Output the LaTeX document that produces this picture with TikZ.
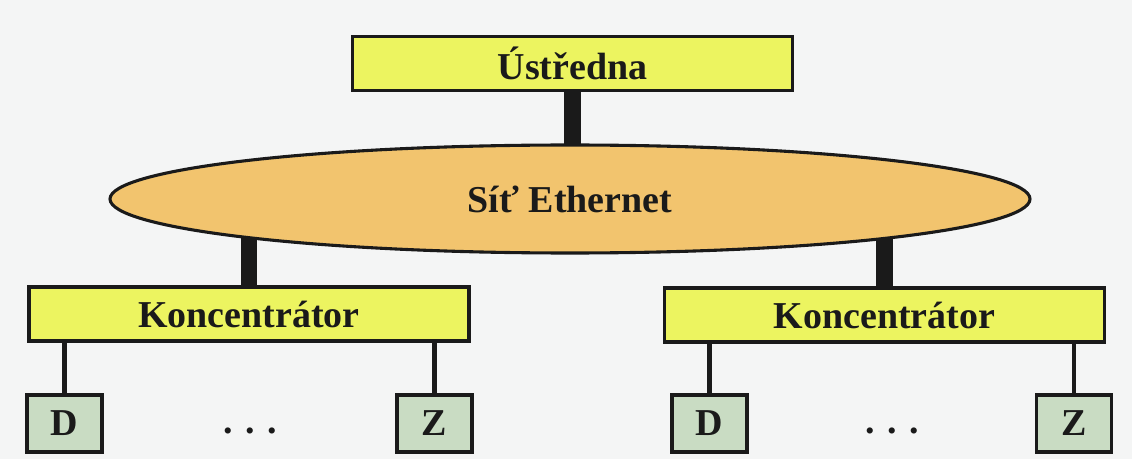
\documentclass[tikz,border=0pt]{standalone}
\usepackage{fontspec}
\setmainfont{Liberation Serif}
\usepackage{xcolor}
\usepackage{tikz}
\usetikzlibrary{shapes.geometric,backgrounds}
\definecolor{netbg}{HTML}{F4F5F5}
\definecolor{boxyellow}{HTML}{ECF460}
\definecolor{netorange}{HTML}{F2C46E}
\definecolor{devgreen}{HTML}{C9DCC3}
\definecolor{inkblack}{HTML}{1A1A1A}

\begin{document}
\begin{tikzpicture}[x=0.025cm,y=-0.025cm,
    hubbox/.style={draw=inkblack,line width=2.5pt,fill=boxyellow,minimum width=440*0.025cm,
      minimum height=54*0.025cm,inner sep=0pt,font=\fontsize{27}{30}\selectfont\bfseries,text=inkblack},
    devbox/.style={draw=inkblack,line width=2.5pt,fill=devgreen,minimum width=75*0.025cm,
      minimum height=57*0.025cm,inner sep=0pt,font=\fontsize{27}{30}\selectfont\bfseries,text=inkblack},
    netshape/.style={ellipse,draw=inkblack,line width=2.2pt,fill=netorange,minimum width=920*0.025cm,
      minimum height=108*0.025cm,inner sep=0pt,font=\fontsize{27}{30}\selectfont\bfseries,text=inkblack},
    trunk/.style={draw=inkblack,line width=12pt},
    branch/.style={draw=inkblack,line width=3pt}]
      \useasboundingbox (0,0) rectangle (1132,459);
      % central unit and network
      \node[hubbox] (ust) at (572.5,63.5) {Ústředna};
      \node[netshape] (net) at (570,199) {Síť Ethernet};
      % concentrators
      \node[hubbox] (konc1) at (249,314) {Koncentrátor};
      \node[hubbox] (konc2) at (884.5,315) {Koncentrátor};
      % devices
      \node[devbox] (d1) at (64.5,423.5) {D};
      \node[devbox] (z1) at (434.5,423.5) {Z};
      \node[devbox] (d2) at (709.5,423.5) {D};
      \node[devbox] (z2) at (1074,423.5) {Z};
      \node[font=\fontsize{27}{30}\selectfont\bfseries,text=inkblack] (dots1) at (250,431) {. . .};
      \node[font=\fontsize{27}{30}\selectfont\bfseries,text=inkblack] (dots2) at (892,431) {. . .};
      \begin{scope}[on background layer]
        \fill[netbg] (0,0) rectangle (1132,459);
        \draw[trunk] (ust.south) -- (ust.south |- net.center);
        \draw[trunk] (konc1.north) -- (konc1.north |- net.center);
        \draw[trunk] (konc2.north) -- (konc2.north |- net.center);
        \draw[branch] (d1.north) -- (d1.north |- konc1.south);
        \draw[branch] (z1.north) -- (z1.north |- konc1.south);
        \draw[branch] (d2.north) -- (d2.north |- konc2.south);
        \draw[branch] (z2.north) -- (z2.north |- konc2.south);
      \end{scope}
\end{tikzpicture}
\end{document}
